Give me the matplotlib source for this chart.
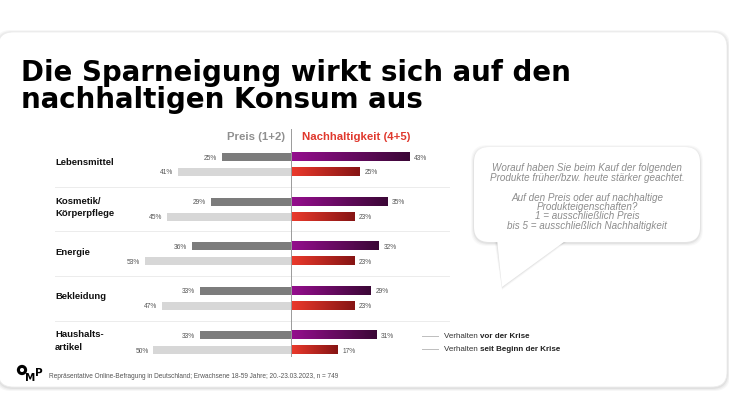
import numpy as np
import matplotlib
matplotlib.use("Agg")
import matplotlib.pyplot as plt
from matplotlib.patches import FancyBboxPatch, Polygon, Circle
from matplotlib.colors import LinearSegmentedColormap

plt.rcParams['font.family'] = ['Liberation Sans', 'DejaVu Sans']

# data (share of respondents, %)
categories = ['Lebensmittel', 'Kosmetik/\nKörperpflege', 'Energie', 'Bekleidung', 'Haushalts-\nartikel']
preis_vor = [25, 29, 36, 33, 33]
preis_seit = [41, 45, 53, 47, 50]
nachh_vor = [43, 35, 32, 29, 31]
nachh_seit = [25, 23, 23, 23, 17]

title_lines = ['Die Sparneigung wirkt sich auf den', 'nachhaltigen Konsum aus']
bubble_lines = [(168, 'Worauf haben Sie beim Kauf der folgenden'),
                (178, 'Produkte früher/bzw. heute stärker geachtet.'),
                (198, 'Auf den Preis oder auf nachhaltige'),
                (207, 'Produkteigenschaften?'),
                (216, '1 = ausschließlich Preis'),
                (226, 'bis 5 = ausschließlich Nachhaltigkeit')]
footer = 'Repräsentative Online-Befragung in Deutschland; Erwachsene 18-59 Jahre; 20.-23.03.2023, n = 749'

W, H = 729, 410
fig = plt.figure(figsize=(W / 100, H / 100), dpi=100)
fig.patch.set_facecolor('white')

# background layer in pixel coordinates
bg = fig.add_axes([0, 0, 1, 1], zorder=0)
bg.set_xlim(0, W)
bg.set_ylim(H, 0)
bg.axis('off')

# card with soft shadow
for i, a in enumerate([0.03, 0.04, 0.05]):
    d = 3 - i
    bg.add_patch(FancyBboxPatch((-2 - d, 33 - d + 1), 729 + 2 * d, 355 + 2 * d,
                                boxstyle='round,pad=0,rounding_size=16',
                                fc='black', ec='none', alpha=a))
bg.add_patch(FancyBboxPatch((-2, 33), 729, 355, boxstyle='round,pad=0,rounding_size=15',
                            fc='white', ec='#ececec', lw=0.6))

# title
tkw = dict(fontsize=19.9, fontweight='bold', color='black', va='baseline', family='DejaVu Sans')
bg.text(21, 81, title_lines[0], **tkw)
bg.text(21, 108, title_lines[1], **tkw)

# speech bubble
tail = [(497, 240), (568, 240), (502, 288)]
for i, a in enumerate([0.025, 0.035, 0.05]):
    d = 3 - i
    bg.add_patch(FancyBboxPatch((474 - d, 148 - d + 1), 226 + 2 * d, 95 + 2 * d,
                                boxstyle='round,pad=0,rounding_size=16',
                                fc='black', ec='none', alpha=a))
    bg.add_patch(Polygon([(497 - d, 240), (568 + d, 240), (502, 288 + d)],
                         closed=True, fc='black', ec='none', alpha=a))
bg.add_patch(FancyBboxPatch((474, 148), 226, 95, boxstyle='round,pad=0,rounding_size=15',
                            fc='white', ec='none'))
bg.add_patch(Polygon(tail, closed=True, fc='white', ec='none'))
for y, line in bubble_lines:
    bg.text(587, y, line, fontsize=7.1, style='italic', color='#8c8c8c',
            ha='center', va='center')

# legend
leg = [('Verhalten ', 'vor der Krise', 337), ('Verhalten ', 'seit Beginn der Krise', 350)]
for plain, bold, y in leg:
    bg.plot([422, 438], [y, y], color='#bdbdbd', lw=0.7)
    t = bg.text(444, y, plain, fontsize=5.8, color='#333333', va='center')
    bg.annotate(bold, xy=(1, 0), xycoords=t, fontsize=5.8, fontweight='bold',
                color='#222222', va='bottom', ha='left')

# footer with a rough logo
bg.add_patch(Circle((22, 371), 3.6, fc='none', ec='black', lw=2.2))
lkw = dict(fontweight='heavy', color='black', va='center', ha='center', family='DejaVu Sans')
bg.text(30.5, 378, 'M', fontsize=7.5, **lkw)
bg.text(38.5, 373, 'P', fontsize=7.5, **lkw)
bg.text(49, 377, footer, fontsize=4.7, color='#555555', va='center')

# chart
px = 2.75                       # pixels per percent
x0, x1 = 55, 450
y_top, y_bot = 130, 370
row0, row_h = 165.5, 44.6
ax = fig.add_axes([x0 / W, 1 - y_bot / H, (x1 - x0) / W, (y_bot - y_top) / H], zorder=1)
ax.set_facecolor('none')
ax.axis('off')

purple = LinearSegmentedColormap.from_list('p', ['#950e8e', '#3b0736'])
red = LinearSegmentedColormap.from_list('r', ['#ec3a2c', '#861414'])
grad = np.linspace(0, 1, 256).reshape(1, -1)

h = 0.18
off = 0.168
rows = np.arange(len(categories))
ax.barh(rows - off, [-v for v in preis_vor], height=h, color='#7c7c7c')
ax.barh(rows + off, [-v for v in preis_seit], height=h, color='#d7d7d7')
for i in rows:
    for v, y, cm in [(nachh_vor[i], i - off, purple), (nachh_seit[i], i + off, red)]:
        ax.imshow(grad, cmap=cm, extent=(0, v, y + h / 2, y - h / 2), aspect='auto',
                  interpolation='bicubic', zorder=2)

lab = dict(fontsize=4.8, color='#555555', va='center')
for i in rows:
    ax.text(-preis_vor[i] - 1.8, i - off, f'{preis_vor[i]}%', ha='right', **lab)
    ax.text(-preis_seit[i] - 1.8, i + off, f'{preis_seit[i]}%', ha='right', **lab)
    ax.text(nachh_vor[i] + 1.8, i - off, f'{nachh_vor[i]}%', ha='left', **lab)
    ax.text(nachh_seit[i] + 1.8, i + off, f'{nachh_seit[i]}%', ha='left', **lab)
    ax.text(-(291 - x0) / px, i - 0.06, categories[i], fontsize=6.8, fontweight='bold',
            color='#111111', ha='left', va='center', linespacing=1.5)

# separators
xl = (-(291 - x0) / px, (x1 - 291) / px)
for i in rows[:-1]:
    ax.plot(xl, [i + 0.5, i + 0.5], color='#ececec', lw=0.7, zorder=0)

# centre line and headers
ax.plot([0, 0], [(y_top - row0) / row_h, (357 - row0) / row_h], color='#9a9a9a', lw=0.7, zorder=3)
ax.text(-2.2, -0.64, 'Preis (1+2)', fontsize=8.2, fontweight='bold', color='#8f8f8f',
        ha='right', va='center')
ax.text(4, -0.64, 'Nachhaltigkeit (4+5)', fontsize=8.2, fontweight='bold', color='#e0382d',
        ha='left', va='center')

ax.set_xlim(*xl)
ax.set_ylim((y_bot - row0) / row_h, (y_top - row0) / row_h)

fig.savefig('out.png', dpi=100, facecolor='white')
